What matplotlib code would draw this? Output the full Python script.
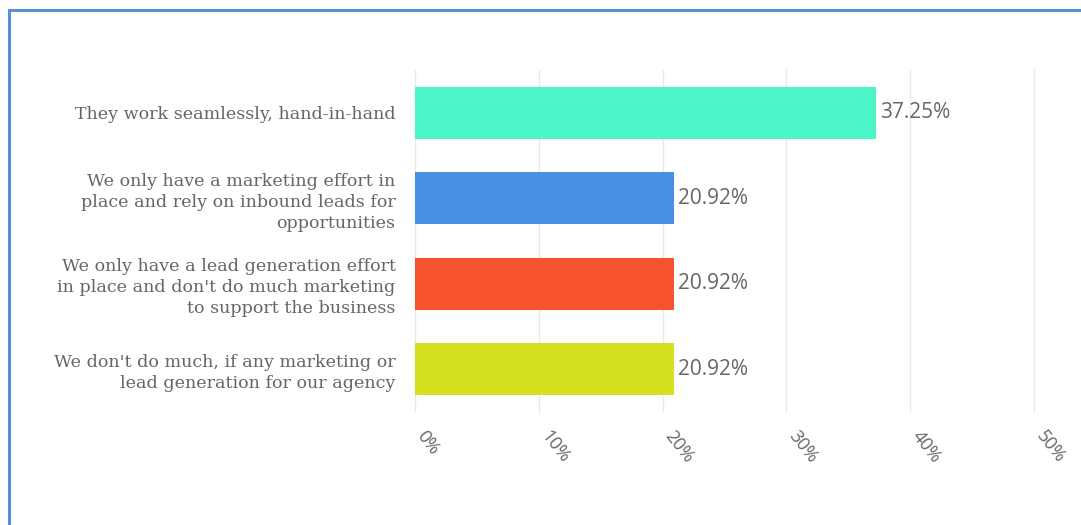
import matplotlib.pyplot as plt
from matplotlib.patches import Rectangle
from matplotlib.ticker import FuncFormatter
from matplotlib.transforms import ScaledTranslation

categories = [
    "They work seamlessly, hand-in-hand",
    "We only have a marketing effort in\nplace and rely on inbound leads for\nopportunities",
    "We only have a lead generation effort\nin place and don't do much marketing\nto support the business",
    "We don't do much, if any marketing or\nlead generation for our agency",
]
shares = [37.25, 20.92, 20.92, 20.92]
colors = ["#4cf5c8", "#4a90e2", "#f6522b", "#d5e021"]
ticks = [0, 10, 20, 30, 40, 50]

TEXT = "#666666"

fig = plt.figure(figsize=(10.81, 5.25), dpi=100)
ax = fig.add_axes([415 / 1081, 1 - 412 / 525, (1034 - 415) / 1081, 342 / 525])

pos = range(len(categories))
ax.barh(pos, shares, height=0.61, color=colors, zorder=2)
for y, v in zip(pos, shares):
    ax.text(v + 0.35, y, f"{v:.2f}%", va="center", ha="left",
            fontsize=15, color=TEXT, family="Open Sans")

ax.set_xlim(0, 50)
ax.set_ylim(len(categories) - 0.5, -0.5)
ax.set_xticks(ticks)
ax.xaxis.set_major_formatter(FuncFormatter(lambda x, p: f"{x:.0f}%"))
ax.set_yticks(list(pos))
ax.set_yticklabels(categories, family="DejaVu Serif", fontsize=12.6,
                   color=TEXT, linespacing=1.3)
ax.tick_params(axis="y", length=0, pad=14)
ax.tick_params(axis="x", length=0, pad=15, labelcolor=TEXT, labelsize=13)
shift = ScaledTranslation(4 / 72, 0, fig.dpi_scale_trans)
for lbl in ax.get_xticklabels():
    lbl.set_rotation(-52)
    lbl.set_ha("left")
    lbl.set_va("center")
    lbl.set_rotation_mode("anchor")
    lbl.set_family("Open Sans")
    lbl.set_transform(lbl.get_transform() + shift)

ax.grid(axis="x", color="#e8e8e8", linewidth=1, zorder=0)
for g in ax.xaxis.get_gridlines():
    g.set_clip_on(False)
for s in ax.spines.values():
    s.set_visible(False)

# blue frame around the card
fig.add_artist(Rectangle((9 / 1081, -0.05), 1.2, 1 - 10 / 525 + 0.05,
                         transform=fig.transFigure, fill=False,
                         edgecolor="#5a8fd0", linewidth=2.2))

fig.savefig("out.png", dpi=100)
